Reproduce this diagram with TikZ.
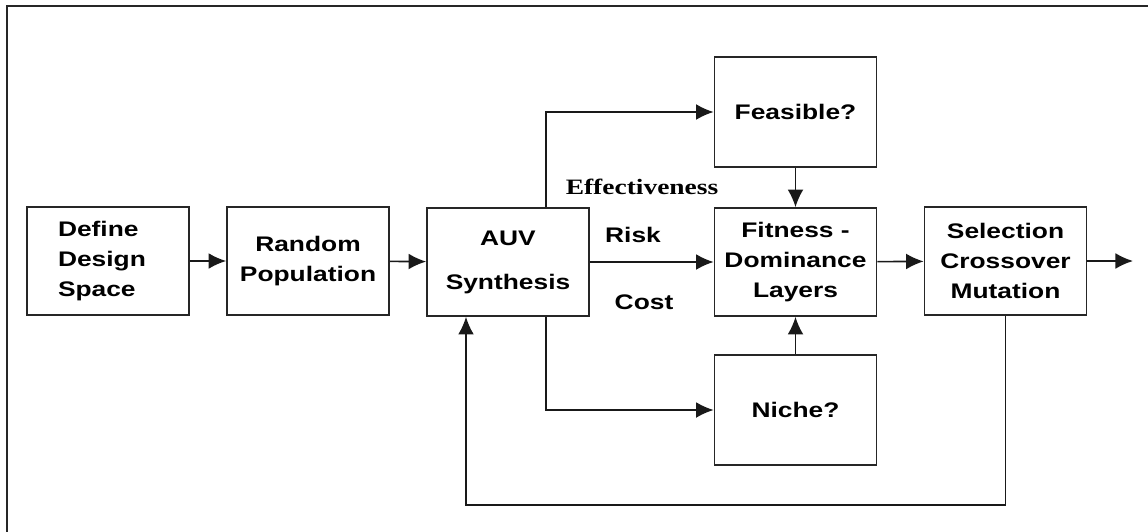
\documentclass[tikz,border=0pt]{standalone}
\usepackage{fontspec}
\setmainfont[FakeStretch=1.25]{Liberation Sans}
\newfontfamily\serifbold[FakeStretch=1.25]{Liberation Serif}
\usetikzlibrary{arrows.meta,positioning}
\tikzset{
  blk/.style={draw=black!85,line width=1pt,fill=white,align=center,inner sep=0pt,
    minimum width=3.24cm,minimum height=2.16cm,font=\fontsize{12}{17}\selectfont\bfseries},
  qblk/.style={blk,minimum height=2.2cm},
  arr/.style={-{Latex[length=10pt,width=9pt]},line width=.9pt,black!90},
  lbl/.style={font=\fontsize{12}{14}\selectfont\bfseries,inner sep=0pt},
}
\begin{document}
\begin{tikzpicture}[x=0.02cm,y=-0.02cm]
  \useasboundingbox (0,0) rectangle (1148,531);
  % frame (cut off right and below)
  \draw[line width=1.3pt,black!85] (7,540)--(7,6)--(1160,6);
  % blocks
  \node[blk,text width=2cm,align=left] (def) at (108,261) {Define\\Design\\Space};
  \node[blk] (pop) at (308,261) {Random\\Population};
  \node[blk] (auv) at (508,262) {AUV\\[8pt]Synthesis};
  \node[qblk] (feas) at (795.5,112) {Feasible?};
  \node[blk] (fit) at (795.5,262) {Fitness -\\Dominance\\Layers};
  \node[qblk] (niche) at (795.5,410) {Niche?};
  \node[blk] (sel) at (1005.5,261) {Selection\\Crossover\\Mutation};
  \coordinate (out) at (1133,261);
  \coordinate (loop) at (466,505);
  % objectives
  \node[lbl,font=\fontsize{12.5}{14}\serifbold\bfseries] (eff) at (642,187) {Effectiveness};
  \node[lbl] (risk) at (633,235) {Risk};
  \node[lbl] (cost) at (644,302) {Cost};
  % main chain
  \draw[arr] (def)--(pop);
  \draw[arr] (pop)--(auv);
  \draw[arr] (auv)--(fit);
  \draw[arr] (fit)--(sel);
  \draw[arr] (sel)--(out);
  % side checks
  \draw[arr] ([xshift=0.76cm]auv.north) |- (feas);
  \draw[arr] ([xshift=0.76cm]auv.south) |- (niche);
  \draw[arr] (feas)--(fit);
  \draw[arr] (niche)--(fit);
  % next generation
  \draw[arr] (sel.south) |- (loop) -- (loop |- auv.south);
\end{tikzpicture}
\end{document}
